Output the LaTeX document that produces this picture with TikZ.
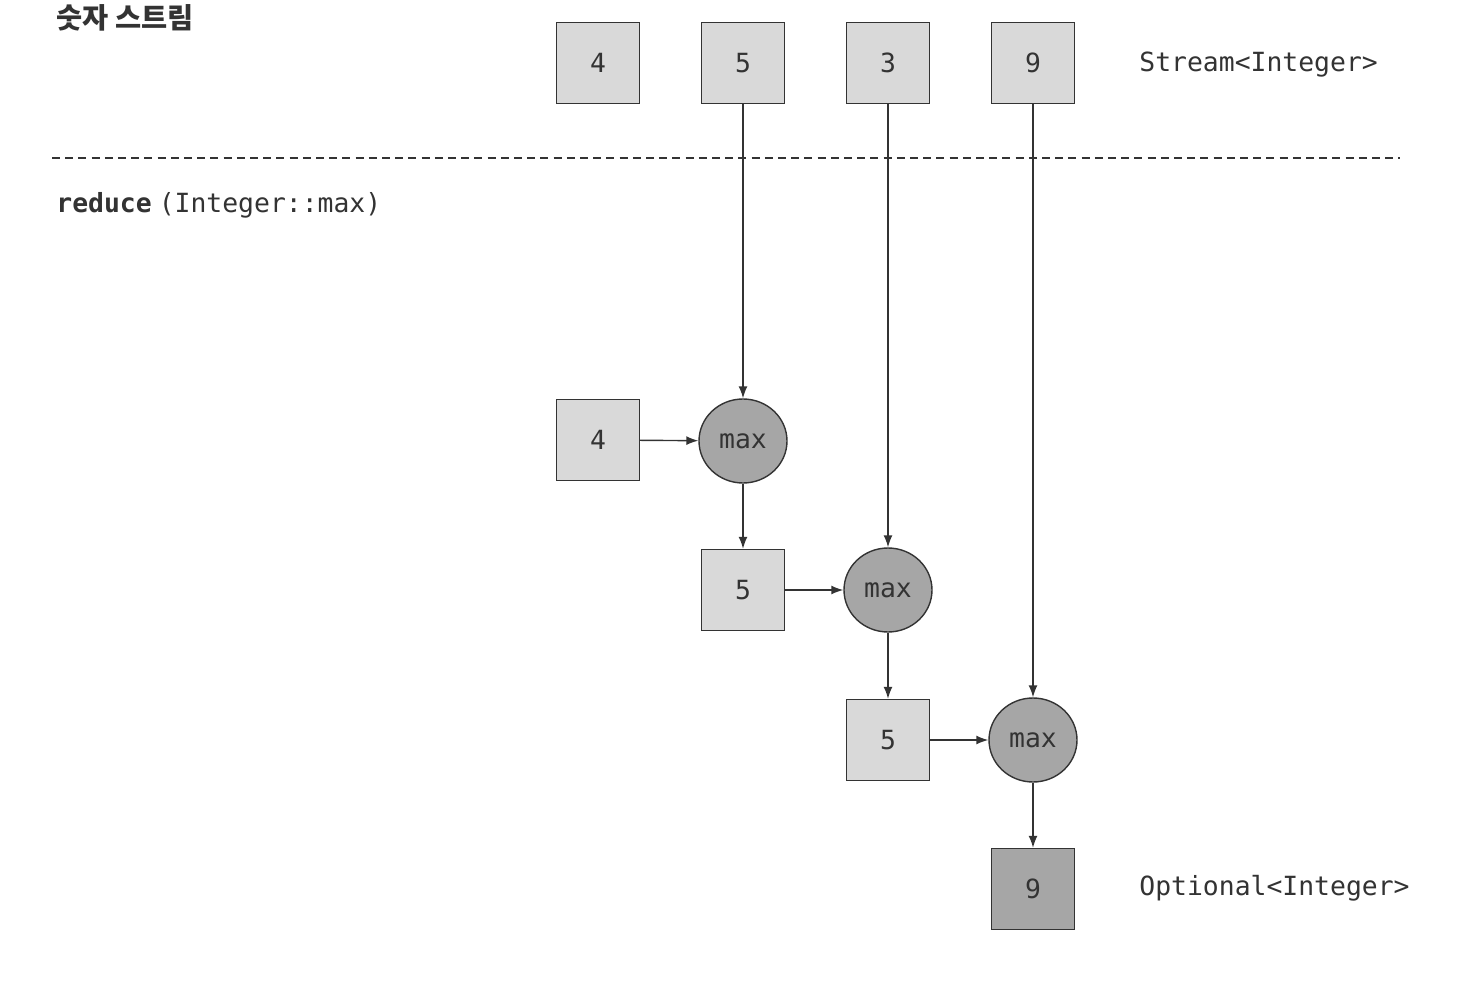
\documentclass[tikz,border=0pt]{standalone}
\usepackage{fontspec}
\setmonofont{DejaVu Sans Mono}
\newfontfamily\kofont{Noto Sans CJK KR}
\usetikzlibrary{shapes.geometric,arrows.meta}
\definecolor{lightfill}{HTML}{D9D9D9}
\definecolor{darkfill}{HTML}{A6A6A6}
\definecolor{linec}{HTML}{333333}
\begin{document}
\begin{tikzpicture}[x=0.5pt,y=-0.5pt,
  every node/.style={font=\ttfamily\fontsize{13.2}{15}\selectfont, text=linec},
  valbox/.style={draw=linec, line width=0.7pt, fill=lightfill, minimum width=41.5pt, minimum height=40.5pt, inner sep=0pt},
  resbox/.style={valbox, fill=darkfill},
  maxop/.style={ellipse, draw=linec, line width=0.7pt, fill=darkfill, minimum width=44pt, minimum height=42pt, inner sep=0pt},
  conn/.style={draw=linec, line width=0.7pt, -{Latex[length=6pt,width=4.5pt]}},
  lbl/.style={anchor=west, inner sep=0pt}]
\useasboundingbox (0,0) rectangle (1473,1000);
% top stream
\node[valbox] (s4) at (598,63) {4};
\node[valbox] (s5) at (743,63) {5};
\node[valbox] (s3) at (888,63) {3};
\node[valbox] (s9) at (1033,63) {9};
\node[lbl] (stream) at (1139,65) {Stream<Integer>};
\node[lbl, font=\kofont\bfseries\fontsize{14.2}{16}\selectfont] (title) at (56,18) {숫자 스트림};
\coordinate (dl) at (52,158);
\coordinate (dr) at (1400,158);
\draw[linec, line width=0.7pt, dash pattern=on 4pt off 2.6pt] (dl) -- (dr);
\node[lbl] (reduce) at (56,205) {\textbf{reduce}\kern3.5pt(Integer::max)};
% reduction chain
\node[valbox] (a4) at (598,440) {4};
\node[maxop] (m1) at (743,441) {max};
\node[valbox] (b5) at (743,590) {5};
\node[maxop] (m2) at (888,590) {max};
\node[valbox] (c5) at (888,740) {5};
\node[maxop] (m3) at (1033,740) {max};
\node[resbox] (r9) at (1033,889) {9};
\node[lbl] (opt) at (1139,888) {Optional<Integer>};
% connectors
\draw[conn] (s5) -- (m1);
\draw[conn] (s3) -- (m2);
\draw[conn] (s9) -- (m3);
\draw[conn] (a4) -- (m1);
\draw[conn] (m1) -- (b5);
\draw[conn] (b5) -- (m2);
\draw[conn] (m2) -- (c5);
\draw[conn] (c5) -- (m3);
\draw[conn] (m3) -- (r9);
\end{tikzpicture}
\end{document}
